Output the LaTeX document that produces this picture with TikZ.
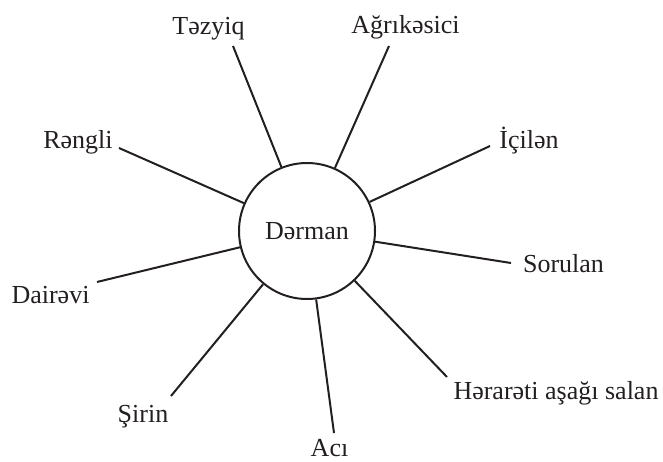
\documentclass[tikz,border=0pt]{standalone}
\usepackage{fontspec}
\setmainfont{Liberation Serif}
\definecolor{ink}{HTML}{231F20}
\begin{document}
\begin{tikzpicture}[x=1pt,y=-1pt,
  spoke/.style={draw=ink, line width=2pt},
  lbl/.style={anchor=base, inner sep=0pt, text=ink, font=\fontsize{26}{30}\selectfont},
  hub/.style={circle, draw=ink, line width=2pt, minimum size=136pt, inner sep=0pt, text=ink, font=\fontsize{26}{30}\selectfont}]
\useasboundingbox (0,0) rectangle (663,462);
\node[hub] (c) at (307,231) {Dərman};
% labels
\node[lbl] (t1) at (208.5,35) {Təzyiq};
\node[lbl] (t2) at (405.5,34) {Ağrıkəsici};
\node[lbl] (t3) at (529,149) {İçilən};
\node[lbl] (t4) at (563.5,272) {Sorulan};
\node[lbl] (t5) at (556,399) {Hərarəti aşağı salan};
\node[lbl] (t6) at (329.5,456) {Acı};
\node[lbl] (t7) at (143,422) {Şirin};
\node[lbl] (t8) at (50.5,303) {Dairəvi};
\node[lbl] (t9) at (78,149) {Rəngli};
% spoke ends
\coordinate (e1) at (233,46);
\coordinate (e2) at (389,46);
\coordinate (e3) at (490,146);
\coordinate (e4) at (511,263);
\coordinate (e5) at (447,377);
\coordinate (e6) at (334,433);
\coordinate (e7) at (171,396);
\coordinate (e8) at (97,282);
\coordinate (e9) at (119,148);
\foreach \i in {1,...,9} \draw[spoke] (c) -- (e\i);
\end{tikzpicture}
\end{document}
